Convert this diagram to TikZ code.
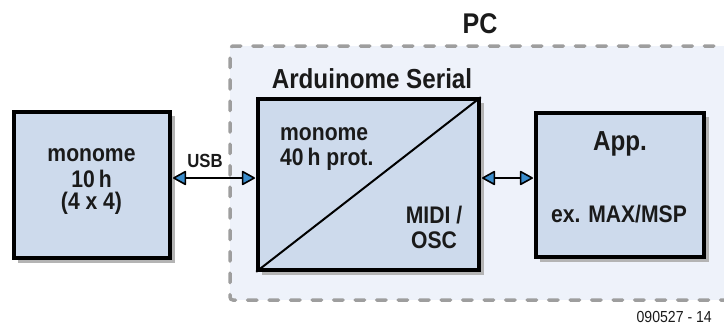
\documentclass[tikz,border=0pt]{standalone}
\usepackage{fontspec}
\setmainfont{Liberation Sans}[FakeStretch=0.88]
\usetikzlibrary{arrows.meta}
\definecolor{boxfill}{HTML}{CDDAEC}
\definecolor{pcfill}{HTML}{EEF2FA}
\definecolor{dashgray}{HTML}{9E9E9E}
\definecolor{shadowgray}{HTML}{B4B4B4}
\definecolor{tipblue}{HTML}{3A8CCB}
\definecolor{txt}{HTML}{1A1A1A}
\tikzset{
  blk/.style={draw=black, line width=3.6pt, fill=boxfill, inner sep=0pt},
  shad/.style={fill=shadowgray, draw=none},
  tipb/.tip={Triangle[fill=tipblue, length=14pt, width=15pt, line width=1.6pt, round]},
  link/.style={line width=2.6pt, tipb-tipb, shorten <=1.2pt, shorten >=1.2pt},
  lbl/.style={text=txt, font=\fontsize{24}{26}\selectfont\bfseries, inner sep=0pt, anchor=base},
  pcbox/.style={draw=dashgray, line width=3.5pt, dash pattern=on 9.5pt off 12pt, line cap=round, rounded corners=3pt}
}
\begin{document}
\begin{tikzpicture}[x=1pt,y=-1pt]
\useasboundingbox (0,0) rectangle (724,324);
% PC region
\fill[pcfill] (230,46) rectangle (724,300);
\draw[pcbox] (730,300) -- (230,300) -- (230,46) -- (730,46);
\node[lbl, font=\fontsize{28.5}{30}\selectfont\bfseries] (pc) at (480,33) {PC};
% shadows
\fill[shad] (18,116) rectangle (175,263);
\fill[shad] (262,103) rectangle (484,275);
\fill[shad] (540,117) rectangle (709,262);
% boxes
\node[blk, minimum width=156pt, minimum height=146pt] (mono) at (92,185) {};
\node[blk, minimum width=221pt, minimum height=171pt] (ard) at (368.5,184.5) {};
\node[blk, minimum width=168pt, minimum height=144pt] (app) at (620,185) {};
\draw[line width=2pt] (ard.south west) -- (ard.north east);
% texts
\node[lbl] (t1a) at (91.5,161) {monome};
\node[lbl] (t1b) at (91.5,187) {10\,h};
\node[lbl] (t1c) at (91.5,209) {(4 x 4)};
\node[lbl, font=\fontsize{27.5}{30}\selectfont\bfseries] (ardt) at (372,88) {Arduinome Serial};
\node[lbl, anchor=base west] (t2a) at (280,140) {monome};
\node[lbl, anchor=base west] (t2b) at (280,165) {40\,h prot.};
\node[lbl] (t3a) at (434,223) {MIDI /};
\node[lbl] (t3b) at (434,248) {OSC};
\node[lbl, font=\fontsize{27.5}{30}\selectfont\bfseries] (t4) at (620,150) {App.};
\node[lbl] (t5) at (619,222) {ex. MAX/MSP};
\node[lbl, font=\fontsize{19}{21}\selectfont\bfseries] (usb) at (205,167) {USB};
\node[text=txt, font=\fontsize{16}{18}\selectfont, anchor=base east, inner sep=0pt] (fig) at (712,322) {090527 - 14};
% links
\draw[link] (mono.east |- 0,178) -- (ard.west |- 0,178);
\draw[link] (ard.east |- 0,178) -- (app.west |- 0,178);
\end{tikzpicture}
\end{document}
